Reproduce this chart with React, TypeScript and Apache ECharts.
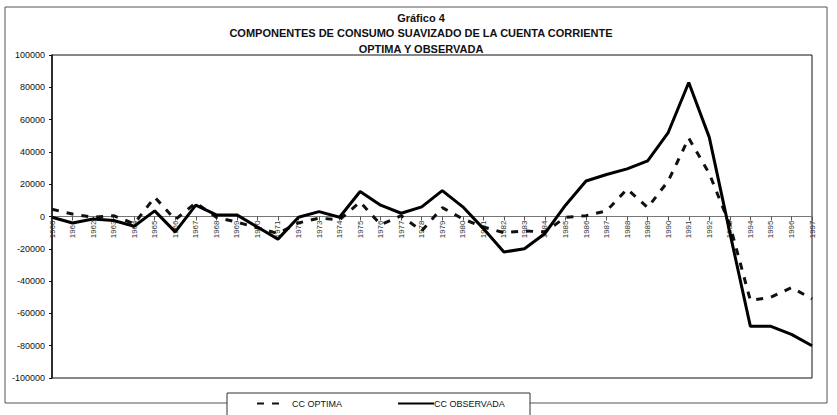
import React, { useEffect, useRef } from "react";
import * as echarts from "echarts";

const years = [
  "1960","1961","1962","1963","1964","1965","1966","1967","1968","1969",
  "1970","1971","1972","1973","1974","1975","1976","1977","1978","1979",
  "1980","1981","1982","1983","1984","1985","1986","1987","1988","1989",
  "1990","1991","1992","1993","1994","1995","1996","1997",
];

const ccOptima = [
  4500, 1500, -500, 500, -4500, 12000, -2000, 8500, -500, -3500,
  -7000, -10500, -4000, -1000, -2000, 9000, -5000, 500, -9000, 5500,
  -1500, -6500, -10000, -9000, -9500, -500, 500, 3500, 17000, 5500,
  22000, 48500, 26500, -5000, -52000, -50000, -44000, -51000,
];

const ccObservada = [
  -500, -4000, -1500, -2500, -6000, 3500, -9500, 7000, 1000, 1000,
  -6500, -14000, -500, 3000, -500, 15500, 7000, 2000, 6000, 16000,
  6000, -7500, -22000, -20000, -10500, 7000, 22000, 26000, 29500, 34500,
  52000, 83000, 49000, -10000, -68000, -68000, -73000, -80000,
];

const titleLines = [
  "Gráfico 4",
  "COMPONENTES DE CONSUMO SUAVIZADO DE LA CUENTA CORRIENTE",
  "OPTIMA Y OBSERVADA",
];

const FONT = "'Liberation Sans', Arial, sans-serif";

export default function App() {
  const ref = useRef<HTMLDivElement>(null);

  useEffect(() => {
    if (!ref.current) return;
    const chart = echarts.init(ref.current, undefined, { renderer: "svg" });
    chart.setOption({
      animation: false,
      backgroundColor: "#ffffff",
      textStyle: { fontFamily: FONT },
      title: {
        text: titleLines.join("\n"),
        left: 416,
        top: 5,
        textAlign: "center",
        textStyle: {
          fontFamily: FONT,
          fontSize: 11,
          fontWeight: "bold",
          color: "#111",
          lineHeight: 15.5,
        },
      },
      graphic: [
        {
          type: "rect",
          shape: { x: 5, y: 7, width: 822, height: 396 },
          style: { fill: "none", stroke: "#555", lineWidth: 1 },
          z: 0,
          silent: true,
        },
        {
          type: "rect",
          shape: { x: 227, y: 393, width: 303, height: 26 },
          style: { fill: "#fff", stroke: "#333", lineWidth: 1 },
          z: 1,
          silent: true,
        },
      ],
      legend: [
        {
          data: ["CC OPTIMA"],
          left: 251,
          top: 394,
          itemWidth: 28,
          itemHeight: 10,
          itemGap: 10,
          itemStyle: { opacity: 0 },
          textStyle: { fontSize: 9, color: "#111", fontFamily: FONT, padding: [0, 0, 0, 2] },
          z: 5,
        },
        {
          data: ["CC OBSERVADA"],
          left: 392,
          top: 394,
          itemWidth: 36,
          itemHeight: 10,
          itemGap: 0,
          itemStyle: { opacity: 0 },
          textStyle: { fontSize: 9, color: "#111", fontFamily: FONT, padding: [0, 0, 0, -5] },
          z: 5,
        },
      ],
      grid: {
        left: 52,
        right: 25,
        top: 55,
        bottom: 37,
        show: true,
        borderColor: "#111",
        borderWidth: 1,
        backgroundColor: "transparent",
      },
      xAxis: {
        type: "category",
        data: years,
        boundaryGap: false,
        position: "bottom",
        offset: -161.5,
        axisLine: { onZero: false, lineStyle: { color: "#777", width: 1 } },
        axisTick: { show: true, length: 4, interval: 0, lineStyle: { color: "#555" } },
        axisLabel: {
          interval: 0,
          rotate: 90,
          fontSize: 8,
          color: "#333",
          margin: 4,
          fontFamily: FONT,
        },
        splitLine: { show: false },
      },
      yAxis: {
        type: "value",
        min: -100000,
        max: 100000,
        interval: 20000,
        axisLine: { show: true, lineStyle: { color: "#111", width: 1.5 } },
        axisTick: { show: true, length: 3, lineStyle: { color: "#111" } },
        axisLabel: {
          fontSize: 9,
          color: "#111",
          margin: 7,
          fontFamily: FONT,
          formatter: (v: number) => String(v),
        },
        splitLine: { show: false },
      },
      series: [
        {
          name: "CC OPTIMA",
          type: "line",
          data: ccOptima,
          symbol: "none",
          showSymbol: false,
          lineStyle: { color: "#111", width: 3, type: [7, 8] },
          itemStyle: { color: "#111" },
          z: 3,
        },
        {
          name: "CC OBSERVADA",
          type: "line",
          data: ccObservada,
          symbol: "none",
          showSymbol: false,
          lineStyle: { color: "#000", width: 3, type: "solid" },
          itemStyle: { color: "#000" },
          z: 4,
        },
      ],
    });
    return () => chart.dispose();
  }, []);

  return (
    <div
      ref={ref}
      style={{ position: "fixed", left: 0, top: 0, width: 837, height: 415 }}
    />
  );
}
